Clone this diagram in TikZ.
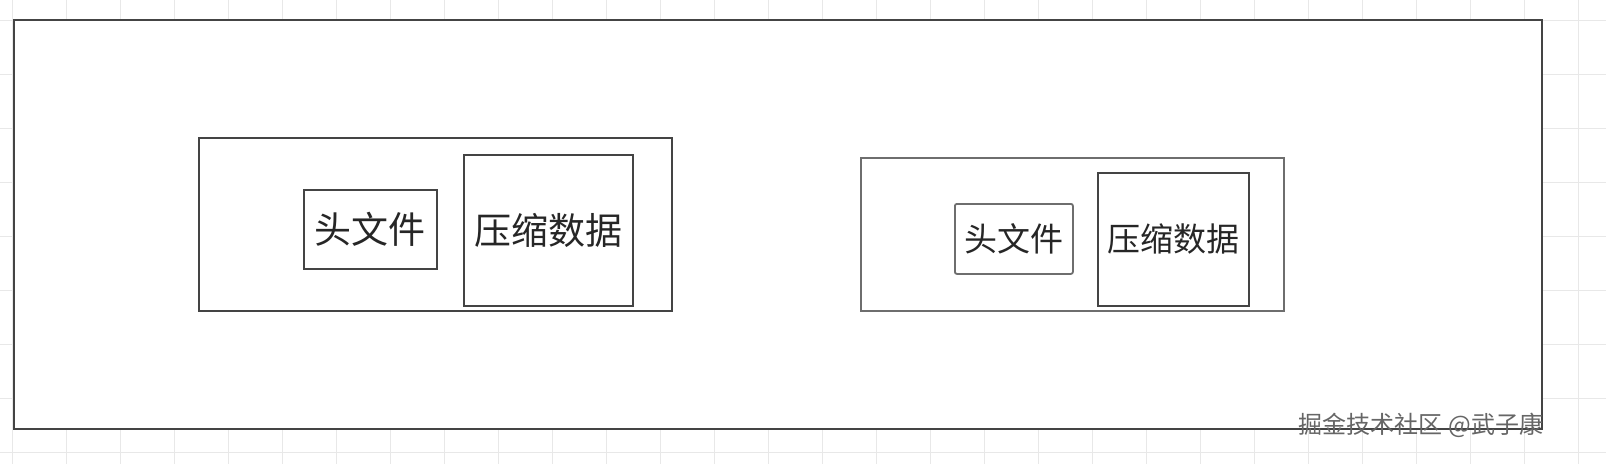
\documentclass[tikz,border=0pt]{standalone}
\usepackage{fontspec}
\newfontfamily\cjk{Noto Sans CJK SC}
\definecolor{gridc}{HTML}{E8E8E8}
\definecolor{edge}{HTML}{444444}
\definecolor{edgel}{HTML}{6E6E6E}
\tikzset{
  box/.style={draw=edge, line width=1.8pt, fill=white, inner sep=0pt, anchor=north west},
  lbox/.style={draw=edgel, line width=1.8pt, fill=white, inner sep=0pt, anchor=north west},
  bigtxt/.style={font=\cjk\fontsize{37}{42}\selectfont, text=black!85},
  smalltxt/.style={font=\cjk\fontsize{33}{38}\selectfont, text=black!85},
}
\begin{document}
\begin{tikzpicture}[x=1pt,y=-1pt]
\useasboundingbox (0,0) rectangle (1606,464);
\fill[white] (0,0) rectangle (1606,464);
% faint grid
\foreach \gx in {0,...,29} {
  \draw[gridc, line width=1pt] ({12+54*\gx},0) -- ({12+54*\gx},464);
}
\foreach \gy in {0,...,8} {
  \draw[gridc, line width=1pt] (0,{20+54*\gy}) -- (1606,{20+54*\gy});
}
% outer frame
\node[box, minimum width=1528pt, minimum height=409pt] (frame) at (13,19) {};
% left group
\node[box, minimum width=473pt, minimum height=173pt] (lgroup) at (198,137) {};
\node[box, minimum width=133pt, minimum height=79pt, bigtxt] (lhead) at (303,189) {头文件};
\node[box, minimum width=169pt, minimum height=151pt, bigtxt] (ldata) at (463,154) {压缩数据};
% right group
\node[lbox, minimum width=423pt, minimum height=153pt] (rgroup) at (860,157) {};
\node[lbox, rounded corners=2pt, minimum width=118pt, minimum height=70pt, smalltxt] (rhead) at (954,203) {头文件};
\node[box, minimum width=151pt, minimum height=133pt, smalltxt] (rdata) at (1097,172) {压缩数据};
% watermark
\node[font=\cjk\fontsize{24}{28}\selectfont, text=gray!80!black, anchor=center, inner sep=0pt] (wm) at (1421,425) {掘金技术社区 @武子康};
\end{tikzpicture}
\end{document}
